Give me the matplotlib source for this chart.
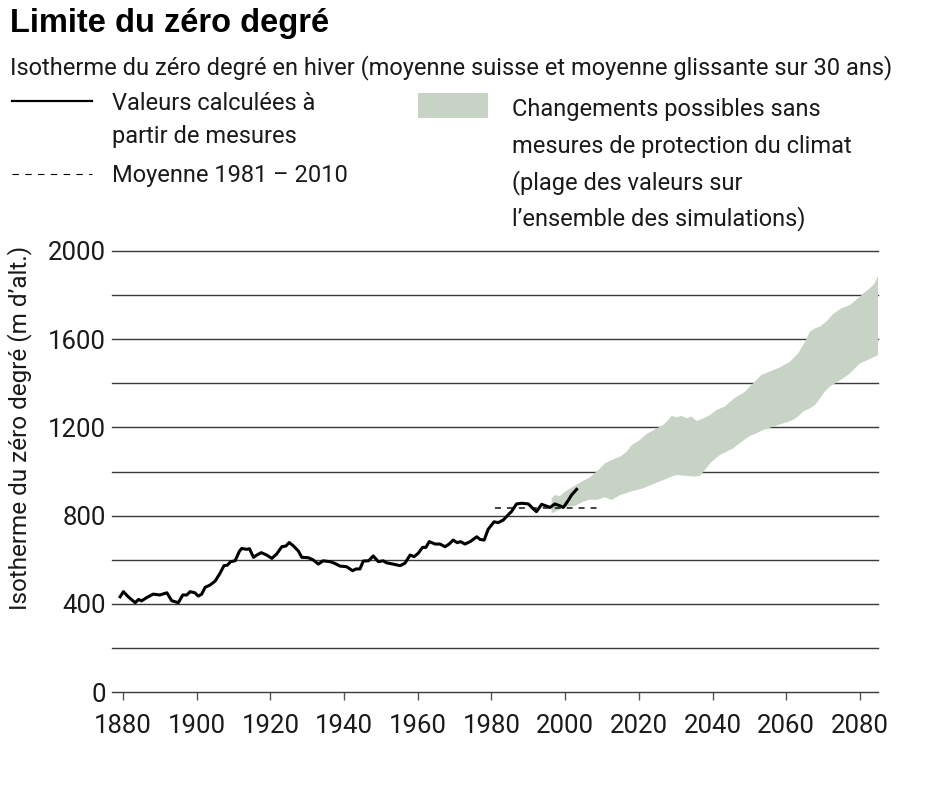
import numpy as np
import matplotlib
matplotlib.use("Agg")
import matplotlib.pyplot as plt
from matplotlib.lines import Line2D
from matplotlib.patches import Rectangle

# ---------------- data ----------------
obs_years = [1879.2, 1880.1, 1881.4, 1883.3, 1884.2, 1885.0, 1886.4, 1888.2, 1890.0, 1891.9,
             1893.2, 1895.0, 1896.2, 1897.3, 1898.2, 1899.5, 1900.4, 1901.3, 1902.3, 1903.6,
             1905.0, 1906.3, 1907.4, 1908.3, 1909.2, 1910.4, 1911.6, 1912.2, 1913.6, 1914.3,
             1915.4, 1916.3, 1917.5, 1919.0, 1920.4, 1921.7, 1923.1, 1924.2, 1925.1, 1926.2,
             1927.6, 1928.5, 1930.3, 1931.6, 1933.0, 1934.3, 1936.2, 1937.5, 1938.9, 1940.7,
             1942.3, 1943.2, 1944.3, 1945.2, 1946.6, 1947.9, 1949.3, 1950.6, 1951.5, 1953.3,
             1955.2, 1956.5, 1957.9, 1959.0, 1960.1, 1961.3, 1962.2, 1963.1, 1964.7, 1966.0,
             1967.4, 1968.5, 1969.6, 1970.7, 1971.6, 1972.8, 1974.2, 1976.0, 1976.9, 1978.0,
             1979.1, 1980.7, 1981.8, 1983.2, 1984.5, 1985.4, 1986.8, 1988.2, 1990.0, 1991.2,
             1992.2, 1993.6, 1994.8, 1995.9, 1997.2, 1998.6, 1999.5, 2000.8, 2001.7, 2003.1]
obs_values = [432, 455, 432, 405, 420, 413, 428, 444, 440, 450,
              414, 405, 440, 440, 455, 450, 435, 443, 475, 485,
              503, 538, 573, 575, 591, 595, 639, 651, 647, 650,
              611, 621, 632, 621, 606, 626, 659, 662, 678, 663,
              639, 611, 609, 599, 580, 595, 591, 583, 571, 568,
              550, 558, 558, 594, 595, 617, 591, 595, 586, 580,
              573, 584, 621, 614, 629, 656, 656, 682, 671, 671,
              659, 671, 689, 677, 682, 671, 682, 704, 692, 689,
              738, 772, 768, 780, 803, 818, 853, 856, 853, 833,
              818, 851, 844, 837, 853, 844, 837, 868, 893, 919]

mean_period = [1981, 2010]
mean_value = 833

band_upper_years = [1996.3, 1997.2, 1998.6, 1999.9, 2002.2, 2004.5, 2006.7, 2009.0, 2010.8, 2012.6,
                    2014.9, 2016.7, 2018.1, 2020.3, 2022.1, 2024.4, 2026.6, 2028.0, 2028.9, 2030.3,
                    2031.6, 2033.0, 2034.3, 2035.7, 2037.5, 2039.3, 2041.1, 2043.3, 2044.7, 2046.5,
                    2048.8, 2050.1, 2051.9, 2053.3, 2055.5, 2058.3, 2061.0, 2063.2, 2065.1, 2066.4,
                    2067.8, 2069.1, 2070.9, 2072.7, 2075.0, 2077.3, 2079.1, 2080.9, 2082.7, 2084.0,
                    2084.9]
band_upper_values = [878, 893, 889, 908, 931, 954, 973, 1007, 1037, 1052,
                     1067, 1090, 1120, 1143, 1170, 1191, 1211, 1234, 1252, 1246,
                     1252, 1241, 1249, 1229, 1241, 1256, 1279, 1294, 1316, 1339,
                     1361, 1385, 1415, 1438, 1453, 1472, 1498, 1535, 1588, 1634,
                     1649, 1657, 1680, 1714, 1740, 1755, 1780, 1807, 1831, 1853,
                     1888]
band_lower_years = [1996.3, 1998.6, 2000.4, 2002.7, 2004.9, 2006.7, 2008.5, 2010.8, 2012.6, 2014.9,
                    2017.6, 2019.4, 2021.2, 2023.9, 2026.6, 2028.9, 2030.3, 2033.0, 2035.2, 2036.6,
                    2037.9, 2039.7, 2042.0, 2043.8, 2045.6, 2047.9, 2050.1, 2051.9, 2053.7, 2056.4,
                    2059.1, 2061.4, 2063.2, 2064.5, 2066.4, 2067.8, 2069.5, 2070.4, 2071.8, 2073.6,
                    2075.4, 2077.3, 2078.6, 2080.0, 2082.2, 2084.0, 2084.9]
band_lower_values = [810, 828, 840, 844, 863, 873, 871, 883, 871, 893,
                     908, 916, 924, 943, 961, 977, 984, 980, 977, 980,
                     1007, 1044, 1075, 1090, 1105, 1135, 1161, 1173, 1188, 1203,
                     1218, 1230, 1249, 1271, 1286, 1302, 1339, 1361, 1385, 1403,
                     1422, 1445, 1467, 1490, 1506, 1521, 1528]

y_ticks = list(range(0, 2001, 200))
y_ticklabels = [str(v) if v % 400 == 0 else "" for v in y_ticks]
x_ticks = list(range(1880, 2081, 20))

title = "Limite du zéro degré"
subtitle = "Isotherme du zéro degré en hiver (moyenne suisse et moyenne glissante sur 30 ans)"
legend_obs = ["Valeurs calculées à", "partir de mesures"]
legend_mean = "Moyenne 1981 – 2010"
legend_band = ["Changements possibles sans", "mesures de protection du climat",
               "(plage des valeurs sur", "l’ensemble des simulations)"]
ylabel = "Isotherme du zéro degré (m d’alt.)"

# ---------------- style ----------------
W, H = 947, 788
FONT = "Roboto"
plt.rcParams["font.family"] = [FONT, "DejaVu Sans"]
plt.rcParams["font.weight"] = "normal"
plt.rcParams["lines.scale_dashes"] = False
TXT = "#1a1a1a"
BAND = "#c6d3c5"
GRID = "#3a3a3a"
FS = 17.0

def fx(px):
    return px / W

def fy(py):
    return 1 - py / H

fig = plt.figure(figsize=(W / 100, H / 100), dpi=100)
ax = fig.add_axes([fx(112), fy(692), (878 - 112) / W, (692 - 251) / H])

ax.fill(np.concatenate([band_upper_years, band_lower_years[::-1]]),
        np.concatenate([band_upper_values, band_lower_values[::-1]]),
        color=BAND, lw=0, zorder=1)
ax.plot(mean_period, [mean_value, mean_value], color="#111", lw=1.1,
        dashes=(4.3, 4.3), zorder=3)
ax.plot(obs_years, obs_values, color="#000", lw=2.2, solid_joinstyle="round", zorder=4)

ax.set_xlim(1877, 2084.9)
ax.set_ylim(0, 2000)
ax.set_yticks(y_ticks)
ax.set_yticklabels(y_ticklabels)
ax.set_xticks(x_ticks)
ax.set_xticklabels([str(v) for v in x_ticks])
ax.yaxis.grid(True, color=GRID, lw=1.0, zorder=0)
for gl in ax.get_ygridlines():
    gl.set_clip_on(False)
ax.set_axisbelow(True)
for s in ax.spines.values():
    s.set_visible(False)
ax.tick_params(axis="y", length=0, pad=4.5, labelsize=18.5, labelcolor=TXT)
ax.tick_params(axis="x", length=6, width=1, color="#555", direction="out",
               pad=10, labelsize=18.5, labelcolor=TXT)

# ---------------- texts ----------------
fig.text(fx(10), fy(32), title, fontsize=23.5, fontweight="bold",
         family=["Liberation Sans", "DejaVu Sans"], color="#000", va="baseline", ha="left")
fig.text(fx(10), fy(74), subtitle, fontsize=FS, color=TXT, va="baseline", ha="left")

# legend left
fig.add_artist(Line2D([fx(12), fx(92)], [fy(101), fy(101)], color="#000", lw=1.6))
fig.text(fx(112), fy(110), legend_obs[0], fontsize=FS, color=TXT, va="baseline")
fig.text(fx(112), fy(143), legend_obs[1], fontsize=FS, color=TXT, va="baseline")
fig.add_artist(Line2D([fx(12), fx(92)], [fy(174), fy(174)], color="#000", lw=0.8,
                      dashes=(4.6, 4.6)))
fig.text(fx(112), fy(182), legend_mean, fontsize=FS, color=TXT, va="baseline")

# legend right
fig.add_artist(Rectangle((fx(418), fy(118)), (488 - 418) / W, (118 - 93) / H,
                         transform=fig.transFigure, color=BAND, lw=0))
for i, line in enumerate(legend_band):
    fig.text(fx(512), fy(116 + 36.5 * i), line, fontsize=FS, color=TXT, va="baseline")

fig.text(fx(20), fy(428), ylabel, fontsize=FS + 0.5, color=TXT, rotation=90,
         va="center", ha="center")

fig.savefig("out.png", dpi=100)
